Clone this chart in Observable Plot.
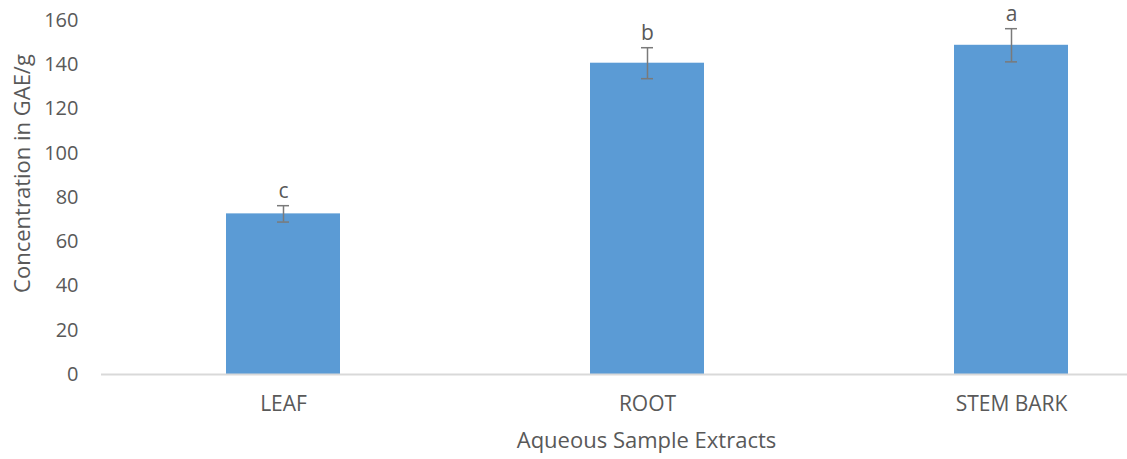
<!DOCTYPE html>
<html>
<head>
<meta charset="utf-8">
<script src="https://cdn.jsdelivr.net/npm/d3@7"></script>
<script src="https://cdn.jsdelivr.net/npm/@observablehq/plot@0.6"></script>
<style>
  html, body { margin: 0; padding: 0; background: #fff; overflow: hidden; }
  #chart svg { font-family: "Open Sans", sans-serif; }
</style>
</head>
<body>
<div id="chart"></div>
<script>
const categories = ["LEAF", "ROOT", "STEM BARK"];
const values = [72.6, 140.7, 148.8];
const errors = [3.7, 7.0, 7.5];
const letters = ["c", "b", "a"];
const yTicks = [0, 20, 40, 60, 80, 100, 120, 140, 160];

const data = categories.map((c, i) => ({
  cat: c, v: values[i], lo: values[i] - errors[i], hi: values[i] + errors[i], letter: letters[i]
}));

const textColor = "#595959";

const plot = Plot.plot({
  width: 1127,
  height: 459,
  marginLeft: 101,
  marginRight: 0,
  marginTop: 20,
  marginBottom: 85,
  style: { fontFamily: "Open Sans, sans-serif", color: textColor, background: "#fff" },
  x: { domain: categories, range: [101, 1193], paddingInner: 0.687, paddingOuter: 0.3435, label: null },
  y: { domain: [0, 160], label: null },
  marks: [
    Plot.barY(data, { x: "cat", y: "v", fill: "#5B9BD5" }),
    Plot.ruleY([0], { stroke: "#d9d9d9", strokeWidth: 2 }),
    Plot.ruleX(data, { x: "cat", y1: "lo", y2: "hi", stroke: "#7a7a7a", strokeWidth: 1.5 }),
    Plot.tickY(data, { x: "cat", y: "lo", stroke: "#7a7a7a", strokeWidth: 1.5, insetLeft: 51, insetRight: 51 }),
    Plot.tickY(data, { x: "cat", y: "hi", stroke: "#7a7a7a", strokeWidth: 1.5, insetLeft: 51, insetRight: 51 }),
    Plot.text(data, { x: "cat", y: "hi", text: "letter", dy: -14, lineAnchor: "middle", fontSize: 21, fill: textColor }),
    Plot.axisY({ ticks: yTicks, tickSize: 0, tickPadding: 23, fontSize: 20, label: null, fill: textColor }),
    Plot.axisX({ tickSize: 0, tickPadding: 22, fontSize: 21, label: null, fill: textColor }),
    Plot.text(["Concentration in GAE/g"], { frameAnchor: "left", text: d => d, rotate: -90, dx: -79, dy: -24, lineAnchor: "middle", textAnchor: "middle", fontSize: 22, fill: textColor }),
    Plot.text(["Aqueous Sample Extracts"], { frameAnchor: "bottom", text: d => d, dx: 32, dy: 66, lineAnchor: "middle", textAnchor: "middle", fontSize: 22, fill: textColor })
  ]
});
document.getElementById("chart").appendChild(plot);
</script>
</body>
</html>
